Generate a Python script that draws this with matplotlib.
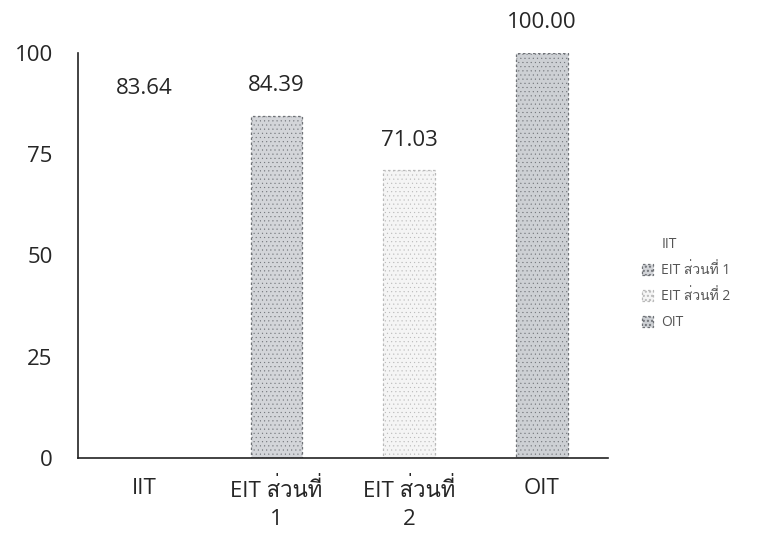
import matplotlib
matplotlib.use("Agg")
import matplotlib.pyplot as plt
from matplotlib import font_manager
from matplotlib.ft2font import FT2Font

# หาฟอนต์ที่มีอักษรไทย (ถ้ามี)
thai_family = None
for f in font_manager.fontManager.ttflist:
    try:
        if 0x0E2A in FT2Font(f.fname).get_charmap():
            thai_family = f.name
            break
    except Exception:
        pass
families = ['Open Sans', 'DejaVu Sans']
if thai_family:
    families = ['Open Sans', thai_family, 'DejaVu Sans']
plt.rcParams['font.family'] = families
plt.rcParams['hatch.color'] = '#9a9ea4'

# ข้อมูล
categories = ['IIT', 'EIT ส่วนที่\n1', 'EIT ส่วนที่\n2', 'OIT']
legend_names = ['IIT', 'EIT ส่วนที่ 1', 'EIT ส่วนที่ 2', 'OIT']
values = [83.64, 84.39, 71.03, 100.00]
value_labels = ['83.64', '84.39', '71.03', '100.00']
yticks = [0, 25, 50, 75, 100]

face = ['#ffffff', '#d3d5d9', '#f5f5f5', '#cdd0d4']
edge = ['#ffffff', '#6f7277', '#b9b9b9', '#6f7277']
txt = '#262626'

fig = plt.figure(figsize=(7.62, 5.36), dpi=100)
ax = fig.add_axes([0.102, 0.145, 0.696, 0.757])

x = range(len(categories))
for i in x:
    b = ax.bar(i, values[i], width=0.39, color=face[i], edgecolor=edge[i],
               linewidth=0.9, linestyle=(0, (2, 2)), hatch='....',
               label=legend_names[i])
    b.patches[0].set_hatch_linewidth(0.3)
    ax.annotate(value_labels[i], (i, values[i]), xytext=(0, 14),
                textcoords='offset points', ha='center', va='bottom',
                fontsize=16, color=txt)

ax.set_xlim(-0.5, 3.5)
ax.set_ylim(0, 100)
ax.set_yticks(yticks)
ax.set_xticks(list(x))
ax.set_xticklabels(categories, fontsize=16, color=txt, linespacing=1.45)
ax.tick_params(axis='y', labelsize=16, labelcolor=txt, length=0, pad=18)
ax.tick_params(axis='x', length=0, pad=14)
for s in ['top', 'right']:
    ax.spines[s].set_visible(False)
for s in ['left', 'bottom']:
    ax.spines[s].set_linewidth(1.2)
    ax.spines[s].set_color('#222222')

ax.legend(loc='center left', bbox_to_anchor=(1.04, 0.43), frameon=False,
          fontsize=10, handlelength=0.8, handleheight=0.8, handletextpad=0.6,
          labelspacing=0.8, labelcolor='#555555')

fig.savefig('out.png', dpi=100, facecolor='white')
